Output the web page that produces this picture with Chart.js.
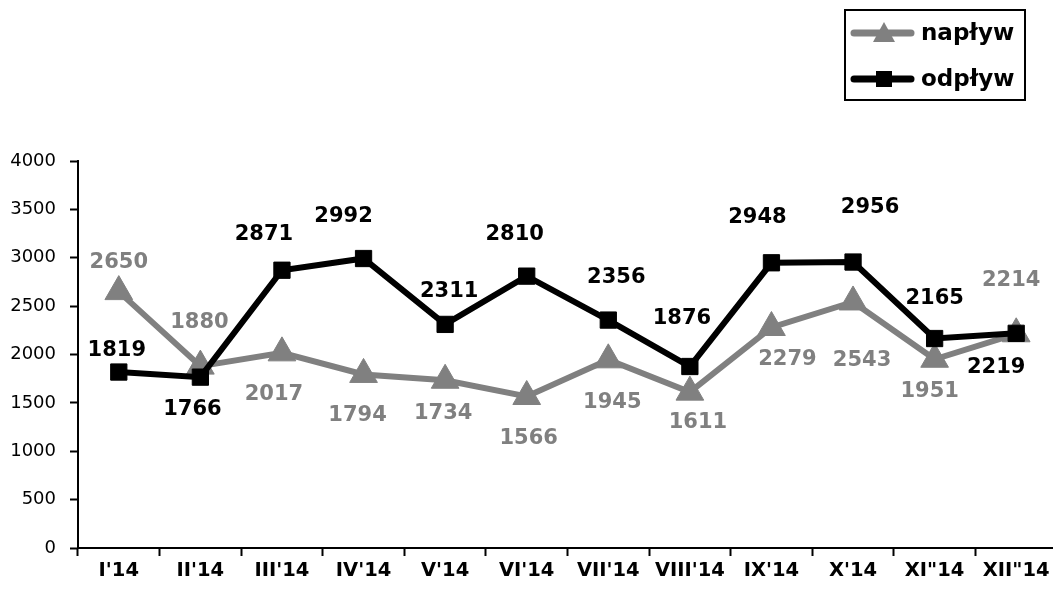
<!DOCTYPE html>
<html>
<head>
<meta charset="utf-8">
<script src="https://cdn.jsdelivr.net/npm/chart.js@4/dist/chart.umd.min.js"></script>
<style>
  html, body { margin: 0; padding: 0; background: #fff; overflow: hidden; }
  #wrap { width: 1058px; height: 595px; }
</style>
</head>
<body>
<div id="wrap"><canvas id="myChart" width="1058" height="595"></canvas></div>
<script>
const categories = ["I'14", "II'14", "III'14", "IV'14", "V'14", "VI'14", "VII'14", "VIII'14", "IX'14", "X'14", "XI\"14", "XII\"14"];
const naplyw = [2650, 1880, 2017, 1794, 1734, 1566, 1945, 1611, 2279, 2543, 1951, 2214];
const odplyw = [1819, 1766, 2871, 2992, 2311, 2810, 2356, 1876, 2948, 2956, 2165, 2219];
const yTicks = [0, 500, 1000, 1500, 2000, 2500, 3000, 3500, 4000];

// label offsets (px) from each point
const naplywLabelDx = [0, -1, -8, -6, -2, 2, 4, 8, 16, 9, -5, -5];
const naplywLabelDy = [-31, -46, 40, 39, 31, 40, 41, 28, 30, 56, 30, -55];
const odplywLabelDx = [-2, -8, -18, -20, 4, -12, 8, -8, -14, 17, 0, -20];
const odplywLabelDy = [-24, 30, -38, -44, -35, -44, -45, -50, -47, -57, -42, 32];

const GRAY = "#808080";

const data = {
  labels: categories,
  datasets: [
    {
      label: "napływ",
      data: naplyw,
      borderColor: GRAY,
      backgroundColor: GRAY,
      borderWidth: 6,
      pointStyle: "triangle",
      pointRadius: 16,
      pointBorderWidth: 1,
      pointBackgroundColor: GRAY,
      pointBorderColor: GRAY,
      order: 2,
      labelColor: GRAY,
      dx: naplywLabelDx,
      dy: naplywLabelDy,
    },
    {
      label: "odpływ",
      data: odplyw,
      borderColor: "#000",
      backgroundColor: "#000",
      borderWidth: 6,
      pointStyle: "rect",
      pointRadius: 11.5,
      pointBorderWidth: 1,
      pointBackgroundColor: "#000",
      pointBorderColor: "#000",
      order: 1,
      labelColor: "#000",
      dx: odplywLabelDx,
      dy: odplywLabelDy,
    },
  ],
};

const valueLabels = {
  id: "valueLabels",
  afterDatasetsDraw(chart) {
    const ctx = chart.ctx;
    ctx.save();
    ctx.font = "bold 21px 'DejaVu Sans'";
    ctx.textAlign = "center";
    ctx.textBaseline = "alphabetic";
    chart.data.datasets.forEach((ds, di) => {
      const meta = chart.getDatasetMeta(di);
      meta.data.forEach((pt, i) => {
        ctx.fillStyle = ds.labelColor;
        ctx.fillText(String(ds.data[i]), pt.x + ds.dx[i], pt.y + ds.dy[i] + 7.6);
      });
    });
    ctx.restore();
  },
};

const boxLegend = {
  id: "boxLegend",
  afterDraw(chart) {
    const ctx = chart.ctx;
    ctx.save();
    ctx.lineWidth = 2;
    ctx.strokeStyle = "#000";
    ctx.strokeRect(845, 10, 180, 90);
    const rows = [
      { name: "napływ", color: GRAY, y: 33, shape: "tri" },
      { name: "odpływ", color: "#000", y: 79, shape: "sq" },
    ];
    rows.forEach((r) => {
      ctx.strokeStyle = r.color;
      ctx.fillStyle = r.color;
      ctx.lineWidth = 7;
      ctx.lineCap = "round";
      ctx.beginPath();
      ctx.moveTo(854, r.y);
      ctx.lineTo(911, r.y);
      ctx.stroke();
      ctx.beginPath();
      if (r.shape == "tri") {
        ctx.moveTo(884, r.y - 11);
        ctx.lineTo(895, r.y + 9);
        ctx.lineTo(873, r.y + 9);
        ctx.closePath();
      } else {
        ctx.rect(876, r.y - 8, 16, 16);
      }
      ctx.fill();
      ctx.fillStyle = "#000";
      ctx.font = "bold 23px 'DejaVu Sans'";
      ctx.textAlign = "left";
      ctx.textBaseline = "middle";
      ctx.fillText(r.name, 921, r.y + 1);
    });
    ctx.restore();
  },
};

const config = {
  type: "line",
  data: data,
  options: {
    responsive: false,
    animation: false,
    layout: { autoPadding: false, padding: { top: 161, left: 0, right: 1, bottom: 0 } },
    scales: {
      x: {
        offset: true,
        grid: {
          offset: true,
          drawOnChartArea: false,
          drawTicks: true,
          tickLength: 8,
          tickColor: "#000",
          tickWidth: 2,
        },
        border: { display: true, color: "#000", width: 2 },
        ticks: {
          color: "#000",
          padding: 3,
          maxRotation: 0,
          autoSkip: false,
          font: { family: "'DejaVu Sans'", size: 19.5, weight: "bold" },
        },
        afterFit(scale) {
          scale.height = 47;
          scale.paddingLeft = 0;
          scale.paddingRight = 0;
        },
      },
      y: {
        min: 0,
        max: 4000,
        afterBuildTicks(scale) { scale.ticks = yTicks.map((v) => ({ value: v })); },
        grid: {
          drawOnChartArea: false,
          drawTicks: true,
          tickLength: 8,
          tickColor: "#000",
          tickWidth: 2,
        },
        border: { display: true, color: "#000", width: 2 },
        ticks: {
          color: "#000",
          padding: 14,
          font: { family: "'DejaVu Sans'", size: 18 },
          callback: (v) => String(v),
        },
        afterFit(scale) {
          scale.width = 78;
          scale.paddingTop = 0;
          scale.paddingBottom = 0;
        },
      },
    },
    plugins: {
      legend: { display: false },
      tooltip: { enabled: false },
    },
    elements: { line: { tension: 0 } },
  },
  plugins: [valueLabels, boxLegend],
};

const myChart = new Chart(document.getElementById("myChart"), config);
</script>
</body>
</html>
